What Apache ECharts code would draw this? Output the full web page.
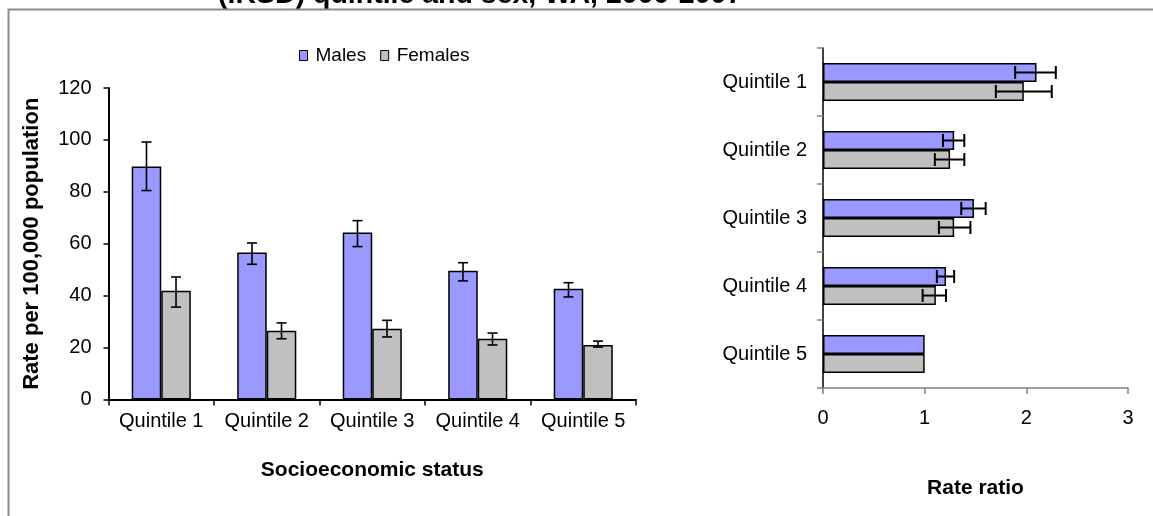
<!DOCTYPE html>
<html>
<head>
<meta charset="utf-8">
<script src="https://cdn.jsdelivr.net/npm/echarts@6/dist/echarts.min.js"></script>
<style>
html,body{margin:0;padding:0;background:#fff;}
#c{width:1153px;height:516px;}
</style>
</head>
<body>
<div id="c"></div>
<script>
// ---- data ----
const categories = ['Quintile 1', 'Quintile 2', 'Quintile 3', 'Quintile 4', 'Quintile 5'];
const seriesNames = ['Males', 'Females'];
const rateTicks = [0, 20, 40, 60, 80, 100, 120];
const ratioTicks = [0, 1, 2, 3];

const maleRate = [89.8, 56.6, 64.3, 49.6, 42.7];
const maleRateLow = [80.5, 52.1, 58.9, 45.7, 39.5];
const maleRateHigh = [99.2, 60.3, 68.9, 52.7, 45.0];
const femaleRate = [41.9, 26.5, 27.3, 23.4, 21.0];
const femaleRateLow = [35.6, 23.4, 24.1, 21.0, 20.2];
const femaleRateHigh = [47.2, 29.5, 30.5, 25.6, 22.5];

const maleRatio = [2.10, 1.29, 1.485, 1.21, 1.0];
const maleRatioLow = [1.89, 1.18, 1.36, 1.12, null];
const maleRatioHigh = [2.29, 1.39, 1.60, 1.29, null];
const femaleRatio = [1.975, 1.25, 1.29, 1.11, 1.0];
const femaleRatioLow = [1.70, 1.10, 1.14, 0.98, null];
const femaleRatioHigh = [2.25, 1.39, 1.45, 1.21, null];

const titleText = '(IRSD) quintile and sex, WA, 2000-2007';

// ---- chart ----
const FONT = '"Liberation Sans", Arial, sans-serif';
const MALE_C = '#9999FF', FEMALE_C = '#C0C0C0';
const chart = echarts.init(document.getElementById('c'), null, {renderer: 'canvas'});

function vErr(offsetFrac) {
  return function (params, api) {
    const lo = api.value(1), hi = api.value(2);
    if (lo == null || hi == null || isNaN(lo) || isNaN(hi)) return;
    const band = api.size([1, 0])[0];
    const cx = api.coord([api.value(0), lo])[0] + band * offsetFrac;
    const yLo = api.coord([api.value(0), lo])[1];
    const yHi = api.coord([api.value(0), hi])[1];
    const hw = 5;
    const st = {stroke: '#000', lineWidth: 1.6};
    return {type: 'group', children: [
      {type: 'line', shape: {x1: cx, y1: yLo, x2: cx, y2: yHi}, style: st},
      {type: 'line', shape: {x1: cx - hw, y1: yLo, x2: cx + hw, y2: yLo}, style: st},
      {type: 'line', shape: {x1: cx - hw, y1: yHi, x2: cx + hw, y2: yHi}, style: st}
    ]};
  };
}
function hErr(offsetFrac) {
  return function (params, api) {
    const lo = api.value(0), hi = api.value(2);
    if (lo == null || hi == null || isNaN(lo) || isNaN(hi)) return;
    const band = Math.abs(api.size([0, 1])[1]);
    const cy = api.coord([lo, api.value(1)])[1] + band * offsetFrac;
    const xLo = api.coord([lo, api.value(1)])[0];
    const xHi = api.coord([hi, api.value(1)])[0];
    const hh = 6.5;
    const st = {stroke: '#000', lineWidth: 2};
    return {type: 'group', children: [
      {type: 'line', shape: {x1: xLo, y1: cy, x2: xHi, y2: cy}, style: st},
      {type: 'line', shape: {x1: xLo, y1: cy - hh, x2: xLo, y2: cy + hh}, style: st},
      {type: 'line', shape: {x1: xHi, y1: cy - hh, x2: xHi, y2: cy + hh}, style: st}
    ]};
  };
}

const leftErrM = categories.map((c, i) => [i, maleRateLow[i], maleRateHigh[i]]);
const leftErrF = categories.map((c, i) => [i, femaleRateLow[i], femaleRateHigh[i]]);
const rightErrM = categories.map((c, i) => [maleRatioLow[i], i, maleRatioHigh[i]]);
const rightErrF = categories.map((c, i) => [femaleRatioLow[i], i, femaleRatioHigh[i]]);

const option = {
  backgroundColor: '#fff',
  animation: false,
  textStyle: {fontFamily: FONT, color: '#000'},
  graphic: [
    {type: 'text', left: 218, top: -19, z: 1,
     style: {text: titleText, font: 'bold 28.5px ' + FONT, fill: '#000'}},
    {type: 'rect', shape: {x: 8.5, y: 9.5, width: 2000, height: 2000}, z: 10,
     style: {fill: 'none', stroke: '#8c8c8c', lineWidth: 2}}
  ],
  legend: {
    data: seriesNames,
    left: 294, top: 41,
    itemWidth: 8, itemHeight: 10, itemGap: 14,
    icon: 'rect',
    textStyle: {fontSize: 19, fontFamily: FONT, color: '#000', padding: [0, 0, 0, 3]},
    itemStyle: {borderColor: '#000', borderWidth: 1}
  },
  grid: [
    {left: 108.5, top: 88, width: 527.5, height: 311.5, containLabel: false},
    {left: 823, top: 48, width: 305, height: 340, containLabel: false}
  ],
  xAxis: [
    {type: 'category', gridIndex: 0, data: categories,
     axisLine: {lineStyle: {color: '#000', width: 2}},
     axisTick: {show: true, interval: 0, length: 6, lineStyle: {color: '#000', width: 1.5}},
     axisLabel: {fontSize: 20, interval: 0, color: '#000', margin: 12, fontFamily: FONT},
     name: 'Socioeconomic status', nameLocation: 'middle', nameGap: 60,
     nameTextStyle: {fontSize: 21, fontWeight: 'bold', color: '#000', fontFamily: FONT},
     splitLine: {show: false}},
    {type: 'value', gridIndex: 1, min: ratioTicks[0], max: ratioTicks[ratioTicks.length - 1], interval: 1,
     axisLine: {show: true, lineStyle: {color: '#808080', width: 1.5}},
     axisTick: {show: true, length: 6, lineStyle: {color: '#808080', width: 1.5}},
     axisLabel: {fontSize: 20, color: '#000', margin: 20, fontFamily: FONT},
     name: 'Rate ratio', nameLocation: 'middle', nameGap: 90,
     nameTextStyle: {fontSize: 21, fontWeight: 'bold', color: '#000', fontFamily: FONT},
     splitLine: {show: false}},
  ],
  yAxis: [
    {type: 'value', gridIndex: 0, min: rateTicks[0], max: rateTicks[rateTicks.length - 1], interval: 20,
     axisLine: {show: true, lineStyle: {color: '#000', width: 2}},
     axisTick: {show: true, length: 5, lineStyle: {color: '#000', width: 1.5}},
     axisLabel: {fontSize: 20, color: '#000', margin: 17, fontFamily: FONT},
     name: 'Rate per 100,000 population', nameLocation: 'middle', nameGap: 66,
     nameTextStyle: {fontSize: 22, fontWeight: 'bold', color: '#000', fontFamily: FONT},
     splitLine: {show: false}},
    {type: 'category', gridIndex: 1, data: categories, inverse: true,
     axisLine: {show: true, lineStyle: {color: '#000', width: 1.5}},
     axisTick: {show: true, interval: 0, length: 6, lineStyle: {color: '#808080', width: 1.5}},
     axisLabel: {fontSize: 20, interval: 0, color: '#000', margin: 16, fontFamily: FONT},
     splitLine: {show: false}}
  ],
  series: [
    {name: seriesNames[0], type: 'bar', xAxisIndex: 0, yAxisIndex: 0, data: maleRate,
     barCategoryGap: '44%', barGap: '0%',
     itemStyle: {color: MALE_C, borderColor: '#000', borderWidth: 1.5}},
    {name: seriesNames[1], type: 'bar', xAxisIndex: 0, yAxisIndex: 0, data: femaleRate,
     barCategoryGap: '44%', barGap: '0%',
     itemStyle: {color: FEMALE_C, borderColor: '#000', borderWidth: 1.5}},
    {name: 'mErr', type: 'custom', xAxisIndex: 0, yAxisIndex: 0, data: leftErrM,
     encode: {x: 0, y: [1, 2]}, renderItem: vErr(-0.14), z: 5, silent: true},
    {name: 'fErr', type: 'custom', xAxisIndex: 0, yAxisIndex: 0, data: leftErrF,
     encode: {x: 0, y: [1, 2]}, renderItem: vErr(0.14), z: 5, silent: true},
    {name: seriesNames[0], type: 'bar', xAxisIndex: 1, yAxisIndex: 1, data: maleRatio,
     barCategoryGap: '44%', barGap: '0%',
     itemStyle: {color: MALE_C, borderColor: '#000', borderWidth: 1.5}},
    {name: seriesNames[1], type: 'bar', xAxisIndex: 1, yAxisIndex: 1, data: femaleRatio,
     barCategoryGap: '44%', barGap: '0%',
     itemStyle: {color: FEMALE_C, borderColor: '#000', borderWidth: 1.5}},
    {name: 'mErr2', type: 'custom', xAxisIndex: 1, yAxisIndex: 1, data: rightErrM,
     encode: {x: [0, 2], y: 1}, renderItem: hErr(-0.14), z: 5, silent: true},
    {name: 'fErr2', type: 'custom', xAxisIndex: 1, yAxisIndex: 1, data: rightErrF,
     encode: {x: [0, 2], y: 1}, renderItem: hErr(0.14), z: 5, silent: true}
  ]
};
chart.setOption(option);
</script>
</body>
</html>
